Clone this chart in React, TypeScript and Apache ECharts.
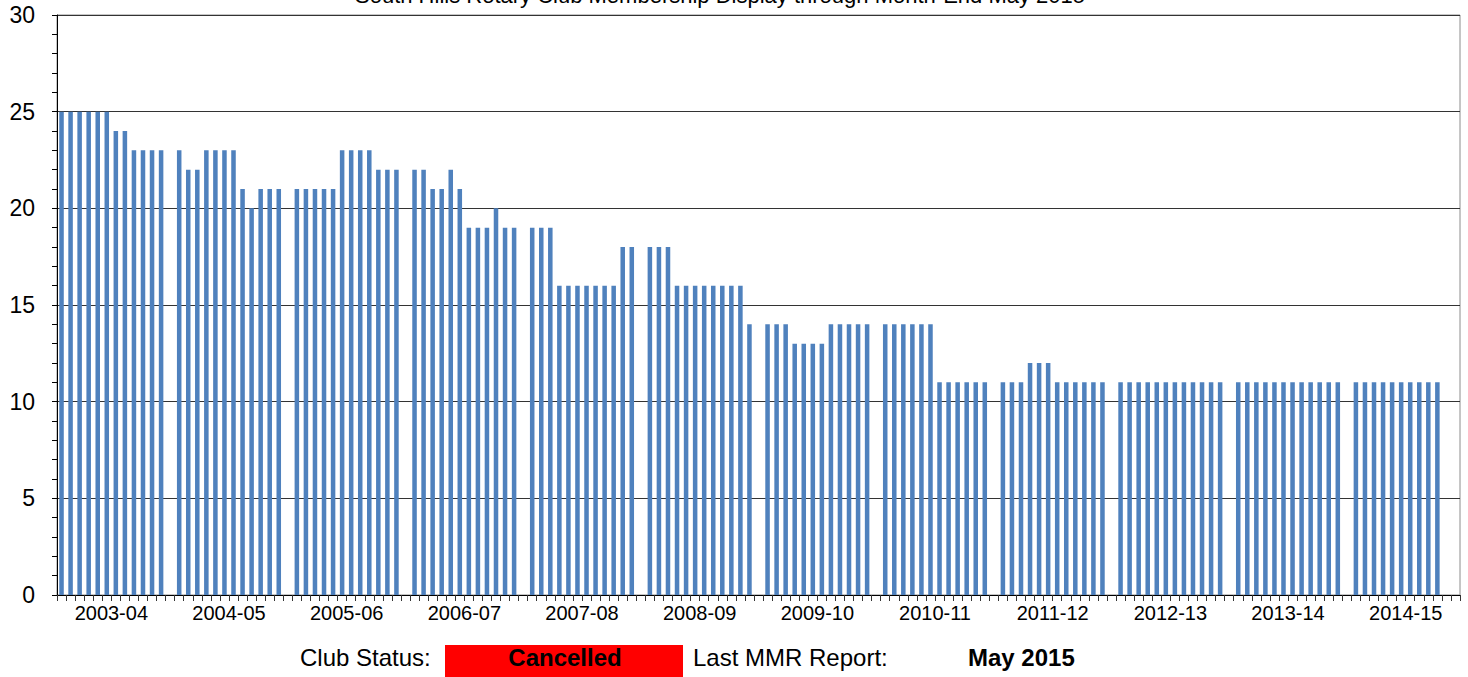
import React, { useEffect, useRef } from "react";
import * as echarts from "echarts";

// Club years (July–June), one label per year
const YEAR_LABELS = [
  "2003-04", "2004-05", "2005-06", "2006-07", "2007-08", "2008-09",
  "2009-10", "2010-11", "2011-12", "2012-13", "2013-14", "2014-15",
];

// Monthly membership, Jul..Jun, per club year (null = no report)
const M_2003_04 = [25, 25, 25, 25, 25, 25, 24, 24, 23, 23, 23, 23];
const M_2004_05 = [23, 22, 22, 23, 23, 23, 23, 21, 20, 21, 21, 21];
const M_2005_06 = [21, 21, 21, 21, 21, 23, 23, 23, 23, 22, 22, 22];
const M_2006_07 = [22, 22, 21, 21, 22, 21, 19, 19, 19, 20, 19, 19];
const M_2007_08 = [19, 19, 19, 16, 16, 16, 16, 16, 16, 16, 18, 18];
const M_2008_09 = [18, 18, 18, 16, 16, 16, 16, 16, 16, 16, 16, 14];
const M_2009_10 = [14, 14, 14, 13, 13, 13, 13, 14, 14, 14, 14, 14];
const M_2010_11 = [14, 14, 14, 14, 14, 14, 11, 11, 11, 11, 11, 11];
const M_2011_12 = [11, 11, 11, 12, 12, 12, 11, 11, 11, 11, 11, 11];
const M_2012_13 = [11, 11, 11, 11, 11, 11, 11, 11, 11, 11, 11, 11];
const M_2013_14 = [11, 11, 11, 11, 11, 11, 11, 11, 11, 11, 11, 11];
const M_2014_15 = [11, 11, 11, 11, 11, 11, 11, 11, 11, 11, null, null];

const YEAR_DATA = [
  M_2003_04, M_2004_05, M_2005_06, M_2006_07, M_2007_08, M_2008_09,
  M_2009_10, M_2010_11, M_2011_12, M_2012_13, M_2013_14, M_2014_15,
];

const TITLE = "South Hills Rotary Club Membership Display through Month-End May 2015";
const CLUB_STATUS = "Cancelled";
const LAST_REPORT = "May 2015";

const FONT = 'Arial, "Liberation Sans", Helvetica, sans-serif';

export default function App() {
  const ref = useRef<HTMLDivElement>(null);

  useEffect(() => {
    if (!ref.current) return;
    const chart = echarts.init(ref.current, undefined, { renderer: "svg" });

    const categories: string[] = [];
    const labels: string[] = [];
    const values: (number | null)[] = [];
    YEAR_DATA.forEach((months, yi) => {
      months.forEach((v, mi) => {
        categories.push(`${YEAR_LABELS[yi]}-${mi + 1}`);
        labels.push(mi === 6 ? YEAR_LABELS[yi] : "");
        values.push(v);
      });
      if (yi < YEAR_DATA.length - 1) {
        categories.push(`${YEAR_LABELS[yi]}-gap`);
        labels.push("");
        values.push(null);
      }
    });

    chart.setOption({
      animation: false,
      backgroundColor: "#ffffff",
      grid: {
        left: 57,
        right: 8,
        top: 15,
        bottom: 82,
        show: true,
        borderColor: "#8c8c8c",
        borderWidth: 1,
        backgroundColor: "transparent",
      },
      xAxis: {
        type: "category",
        data: categories,
        boundaryGap: true,
        axisLine: { show: true, lineStyle: { color: "#000", width: 1 } },
        axisTick: { show: true, interval: 0, length: 6, lineStyle: { color: "#333" } },
        axisLabel: {
          interval: 0,
          margin: 8,
          fontSize: 20,
          fontFamily: FONT,
          color: "#000",
          padding: [0, 9, 0, 0],
          formatter: (_v: string, i: number) => labels[i],
        },
        splitLine: { show: false },
      },
      yAxis: {
        type: "value",
        min: 0,
        max: 30,
        interval: 5,
        axisLine: { show: true, lineStyle: { color: "#000", width: 1 } },
        axisTick: { show: true, length: 5, lineStyle: { color: "#000" } },
        minorTick: { show: true, splitNumber: 5, length: 5, lineStyle: { color: "#000" } },
        axisLabel: { fontSize: 23, fontFamily: FONT, color: "#000", margin: 22 },
        splitLine: { show: true, lineStyle: { color: "#333", width: 1 } },
      },
      series: [
        {
          type: "bar",
          data: values,
          barWidth: "50%",
          itemStyle: { color: "#4F81BD" },
        },
      ],
      graphic: [
        {
          type: "text",
          x: 720,
          y: 6,
          style: {
            text: TITLE,
            fontSize: 22,
            fontFamily: FONT,
            fill: "#000",
            align: "center",
            verticalAlign: "bottom",
          },
        },
        {
          type: "text",
          x: 300,
          y: 657,
          style: {
            text: "Club Status:",
            fontSize: 24,
            fontFamily: FONT,
            fill: "#000",
            align: "left",
            verticalAlign: "middle",
          },
        },
        {
          type: "rect",
          shape: { x: 445, y: 645, width: 238, height: 32 },
          style: { fill: "#FF0000" },
        },
        {
          type: "text",
          x: 565,
          y: 657,
          style: {
            text: CLUB_STATUS,
            fontSize: 24,
            fontWeight: "bold",
            fontFamily: FONT,
            fill: "#000",
            align: "center",
            verticalAlign: "middle",
          },
        },
        {
          type: "text",
          x: 693,
          y: 657,
          style: {
            text: "Last MMR Report:",
            fontSize: 24,
            fontFamily: FONT,
            fill: "#000",
            align: "left",
            verticalAlign: "middle",
          },
        },
        {
          type: "text",
          x: 968,
          y: 657,
          style: {
            text: LAST_REPORT,
            fontSize: 24,
            fontWeight: "bold",
            fontFamily: FONT,
            fill: "#000",
            align: "left",
            verticalAlign: "middle",
          },
        },
      ],
    });

    return () => chart.dispose();
  }, []);

  return (
    <div
      ref={ref}
      style={{ position: "fixed", left: 0, top: 0, width: 1468, height: 677, background: "#fff" }}
    />
  );
}
